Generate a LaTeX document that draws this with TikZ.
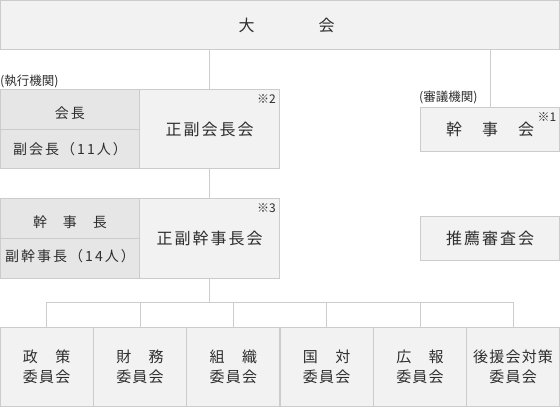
\documentclass[tikz,border=0pt]{standalone}
\usepackage{fontspec}
\setmainfont{Noto Sans CJK JP}
\newfontfamily\jpR[LetterSpace=12.5]{Noto Sans CJK JP}
\newfontfamily\jpL[LetterSpace=14.3]{Noto Sans CJK JP}
\newfontfamily\jpC[LetterSpace=8]{Noto Sans CJK JP}
\definecolor{bd}{HTML}{CCCCCC}
\definecolor{fa}{HTML}{F2F2F2}
\definecolor{fb}{HTML}{E6E6E6}
\definecolor{tx}{HTML}{2E2E2E}
\newcommand\lowerby[2]{\raisebox{-#1}[\height][\depth]{#2}}
\tikzset{
  box/.style={draw=bd, line width=1pt, fill=fa, text=tx, inner sep=0pt},
  lbox/.style={box, fill=fb, minimum width=139pt, font=\jpL\fontsize{14}{18}\selectfont},
  rbox/.style={box, font=\jpR\fontsize{16}{20}\selectfont},
  cbox/.style={box, minimum width=93.33pt, minimum height=79pt, align=center, font=\jpC\fontsize{15}{20}\selectfont},
  note/.style={text=tx, inner sep=0pt, font=\fontsize{12}{14}\selectfont},
  lab/.style={text=tx, inner sep=0pt, anchor=west, font=\fontsize{12.5}{14}\selectfont},
  conn/.style={draw=bd, line width=1pt}
}
\begin{document}
\begin{tikzpicture}[x=1pt,y=-1pt]
\useasboundingbox (0,0) rectangle (560,407);
% top
\node[box, minimum width=559pt, minimum height=49pt, font=\fontsize{16}{20}\selectfont] (top) at (280,25) {\hspace{13pt}大\hspace{64pt}会};
% executive
\node[lab] (exe) at (0,81) {(執行機関)};
\node[lbox, minimum height=40pt] (kc) at (70,109.5) {\lowerby{3.5pt}{会長}};
\node[lbox, minimum height=39pt] (fkc) at (70,149) {副会長（11人）};
\node[rbox, minimum width=140pt, minimum height=79pt] (sfk) at (209.5,129) {正副会長会};
\node[note, anchor=east] (n2) at ([xshift=-4pt,yshift=-10pt]sfk.north east) {※2};
\node[lbox, minimum height=40pt] (kjc) at (70,218.5) {\lowerby{3.5pt}{幹\hspace{16pt}事\hspace{16pt}長}};
\node[lbox, minimum height=40pt] (fkj) at (70,258.5) {\lowerby{-2pt}{副幹事長（14人）}};
\node[rbox, minimum width=140pt, minimum height=80pt] (sfkj) at (209.5,238.5) {正副幹事長会};
\node[note, anchor=east] (n3) at ([xshift=-4pt,yshift=-10pt]sfkj.north east) {※3};
% deliberative
\node[lab] (del) at (419,97) {(審議機関)};
\node[rbox, minimum width=139pt, minimum height=44pt] (kjk) at (490,129.5) {幹\hspace{20pt}事\hspace{20pt}会};
\node[note, anchor=east] (n1) at ([xshift=-3.5pt,yshift=-10pt]kjk.north east) {※1};
\node[rbox, minimum width=139pt, minimum height=44pt] (ss) at (490,238.5) {推薦審査会};
% committees
\node[cbox] (c1) at (46.67,367) {政　策\\委員会};
\node[cbox] (c2) at (140,367) {財　務\\委員会};
\node[cbox] (c3) at (233.33,367) {組　織\\委員会};
\node[cbox] (c4) at (326.67,367) {国　対\\委員会};
\node[cbox] (c5) at (420,367) {広　報\\委員会};
\node[cbox, minimum width=92.8pt] (c6) at (513.1,367) {後援会対策\\委員会};
% connectors
\coordinate (bus) at (0,302);
\draw[conn] (top.south -| sfk) -- (sfk.north);
\draw[conn] (top.south -| kjk) -- (kjk.north);
\draw[conn] (sfk.south) -- (sfkj.north);
\draw[conn] (sfkj.south) -- (sfkj.south |- bus);
\draw[conn] (c1.north) -- (c1.north |- bus) -- (c6.north |- bus) -- (c6.north);
\foreach \c in {c2,c3,c4,c5} \draw[conn] (\c.north) -- (\c.north |- bus);
\end{tikzpicture}
\end{document}
